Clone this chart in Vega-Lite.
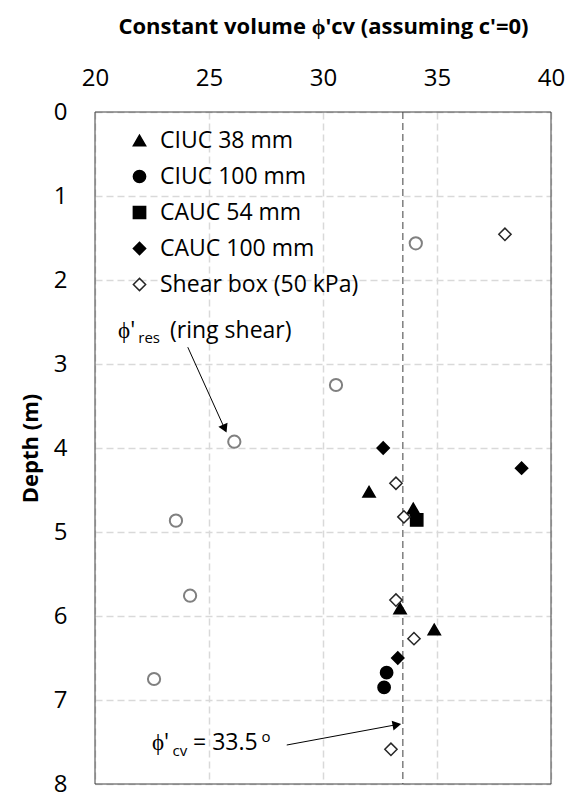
{
  "$schema": "https://vega.github.io/schema/vega-lite/v6.json",
  "width": 456,
  "height": 672,
  "autosize": {"type": "none"},
  "padding": {"left": 95, "top": 112, "right": 16, "bottom": 8},
  "background": "white",
  "view": {"stroke": null},
  "config": {
    "font": "Open Sans",
    "axis": {
      "grid": true,
      "gridColor": "#d9d9d9",
      "gridDash": [7, 4],
      "gridWidth": 1.5,
      "ticks": false,
      "domain": false,
      "labelFlush": false,
      "labelFont": "Open Sans",
      "labelFontSize": 24,
      "labelColor": "black",
      "titleFont": "Open Sans",
      "titleFontSize": 22,
      "titleFontWeight": "bold",
      "titleColor": "black"
    },
    "legend": {
      "labelFont": "Open Sans",
      "labelFontSize": 23,
      "labelColor": "black",
      "labelLimit": 400
    }
  },
  "datasets": {
    "tests": [
      {"phi": 32.02, "depth": 4.52, "test": "CIUC 38 mm"},
      {"phi": 33.96, "depth": 4.72, "test": "CIUC 38 mm"},
      {"phi": 33.38, "depth": 5.91, "test": "CIUC 38 mm"},
      {"phi": 34.88, "depth": 6.16, "test": "CIUC 38 mm"},
      {"phi": 32.79, "depth": 6.675, "test": "CIUC 100 mm"},
      {"phi": 32.68, "depth": 6.85, "test": "CIUC 100 mm"},
      {"phi": 34.11, "depth": 4.857, "test": "CAUC 54 mm"},
      {"phi": 32.64, "depth": 4.0, "test": "CAUC 100 mm"},
      {"phi": 38.71, "depth": 4.24, "test": "CAUC 100 mm"},
      {"phi": 33.28, "depth": 6.5, "test": "CAUC 100 mm"},
      {"phi": 37.98, "depth": 1.456, "test": "Shear box (50 kPa)"},
      {"phi": 33.2, "depth": 4.42, "test": "Shear box (50 kPa)"},
      {"phi": 33.55, "depth": 4.82, "test": "Shear box (50 kPa)"},
      {"phi": 33.2, "depth": 5.81, "test": "Shear box (50 kPa)"},
      {"phi": 33.99, "depth": 6.27, "test": "Shear box (50 kPa)"},
      {"phi": 32.98, "depth": 7.587, "test": "Shear box (50 kPa)"}
    ],
    "ring": [
      {"phi": 34.07, "depth": 1.563},
      {"phi": 30.57, "depth": 3.25},
      {"phi": 26.11, "depth": 3.925},
      {"phi": 23.55, "depth": 4.865},
      {"phi": 24.17, "depth": 5.758},
      {"phi": 22.59, "depth": 6.75}
    ],
    "arrows": [
      {"id": "res", "phi": 24.07, "depth": 2.8, "phi2": 25.72, "depth2": 3.79, "hphi": 25.69, "hdepth": 3.77},
      {"id": "cv", "phi": 28.41, "depth": 7.536, "phi2": 33.3, "depth2": 7.29, "hphi": 33.24, "hdepth": 7.296}
    ],
    "frameX": [{"phi": 20}, {"phi": 40}],
    "frameY": [{"depth": 0}, {"depth": 8}],
    "labels": [
      {"phi": 21.01, "depth": 2.69, "text": "ϕ'"},
      {"phi": 23.29, "depth": 2.69, "text": "(ring shear)"},
      {"phi": 22.5, "depth": 7.595, "text": "ϕ'"},
      {"phi": 24.3, "depth": 7.595, "text": "= 33.5"}
    ],
    "subs": [
      {"phi": 21.9, "depth": 2.75, "text": "res"},
      {"phi": 23.4, "depth": 7.667, "text": "cv"},
      {"phi": 27.3, "depth": 7.5, "text": "o"}
    ]
  },
  "encoding": {
    "x": {
      "field": "phi", "type": "quantitative",
      "scale": {"domain": [20, 40], "nice": false, "zero": false},
      "axis": {
        "orient": "top",
        "values": [20, 25, 30, 35, 40],
        "labelPadding": 22,
        "titlePadding": 28,
        "title": "Constant volume ϕ'cv (assuming c'=0)"
      }
    },
    "y": {
      "field": "depth", "type": "quantitative",
      "scale": {"domain": [0, 8], "nice": false, "reverse": true, "zero": false},
      "axis": {
        "values": [0, 1, 2, 3, 4, 5, 6, 7, 8],
        "labelPadding": 28,
        "titlePadding": 11,
        "title": "Depth (m)"
      }
    }
  },
  "layer": [
    {
      "data": {"values": [{"phi": 33.5}]},
      "mark": {"type": "rule", "color": "#7f7f7f", "strokeDash": [7, 4], "strokeWidth": 1.5},
      "encoding": {"x": {"field": "phi", "type": "quantitative"}, "y": null}
    },
    {
      "data": {"name": "frameX"},
      "mark": {"type": "rule", "color": "#404040", "strokeWidth": 1},
      "encoding": {"x": {"field": "phi", "type": "quantitative"}, "y": null}
    },
    {
      "data": {"name": "frameY"},
      "mark": {"type": "rule", "color": "#404040", "strokeWidth": 1},
      "encoding": {"y": {"field": "depth", "type": "quantitative"}, "x": null}
    },
    {
      "data": {"name": "ring"},
      "mark": {"type": "point", "shape": "circle", "filled": false, "stroke": "#808080", "strokeWidth": 2, "size": 150, "opacity": 1}
    },
    {
      "data": {"name": "tests"},
      "mark": {"type": "point", "filled": true, "size": 150, "strokeWidth": 1.5, "opacity": 1},
      "encoding": {
        "shape": {
          "field": "test", "type": "nominal",
          "scale": {
            "domain": ["CIUC 38 mm", "CIUC 100 mm", "CAUC 54 mm", "CAUC 100 mm", "Shear box (50 kPa)"],
            "range": ["triangle-up", "circle", "square", "diamond", "diamond"]
          },
          "legend": {
            "title": null,
            "orient": "none",
            "legendX": 33,
            "legendY": 17,
            "padding": 0,
            "symbolSize": 150,
            "symbolStrokeWidth": 1.5,
            "labelOffset": 9,
            "rowPadding": 12
          }
        },
        "fill": {
          "field": "test", "type": "nominal",
          "scale": {
            "domain": ["CIUC 38 mm", "CIUC 100 mm", "CAUC 54 mm", "CAUC 100 mm", "Shear box (50 kPa)"],
            "range": ["black", "black", "black", "black", "white"]
          },
          "legend": {
            "title": null,
            "orient": "none",
            "legendX": 33,
            "legendY": 17,
            "padding": 0,
            "symbolSize": 150,
            "symbolStrokeWidth": 1.5,
            "labelOffset": 9,
            "rowPadding": 12
          }
        },
        "stroke": {
          "field": "test", "type": "nominal",
          "scale": {
            "domain": ["CIUC 38 mm", "CIUC 100 mm", "CAUC 54 mm", "CAUC 100 mm", "Shear box (50 kPa)"],
            "range": ["black", "black", "black", "black", "#262626"]
          },
          "legend": {
            "title": null,
            "orient": "none",
            "legendX": 33,
            "legendY": 17,
            "padding": 0,
            "symbolSize": 150,
            "symbolStrokeWidth": 1.5,
            "labelOffset": 9,
            "rowPadding": 12
          }
        }
      }
    },
    {
      "data": {"name": "arrows"},
      "mark": {"type": "rule", "color": "black", "strokeWidth": 1},
      "encoding": {
        "x2": {"field": "phi2"},
        "y2": {"field": "depth2"}
      }
    },
    {
      "data": {"name": "arrows"},
      "transform": [{"filter": "datum.id === 'res'"}],
      "mark": {"type": "point", "shape": "triangle-up", "filled": true, "color": "black", "size": 100, "angle": 155.6, "opacity": 1},
      "encoding": {
        "x": {"field": "hphi", "type": "quantitative"},
        "y": {"field": "hdepth", "type": "quantitative"}
      }
    },
    {
      "data": {"name": "arrows"},
      "transform": [{"filter": "datum.id === 'cv'"}],
      "mark": {"type": "point", "shape": "triangle-up", "filled": true, "color": "black", "size": 100, "angle": 79.6, "opacity": 1},
      "encoding": {
        "x": {"field": "hphi", "type": "quantitative"},
        "y": {"field": "hdepth", "type": "quantitative"}
      }
    },
    {
      "data": {"name": "labels"},
      "mark": {"type": "text", "align": "left", "baseline": "alphabetic", "fontSize": 23, "font": "Open Sans", "color": "black"},
      "encoding": {"text": {"field": "text"}}
    },
    {
      "data": {"name": "subs"},
      "mark": {"type": "text", "align": "left", "baseline": "alphabetic", "fontSize": 15, "font": "Open Sans", "color": "black"},
      "encoding": {"text": {"field": "text"}}
    }
  ]
}
